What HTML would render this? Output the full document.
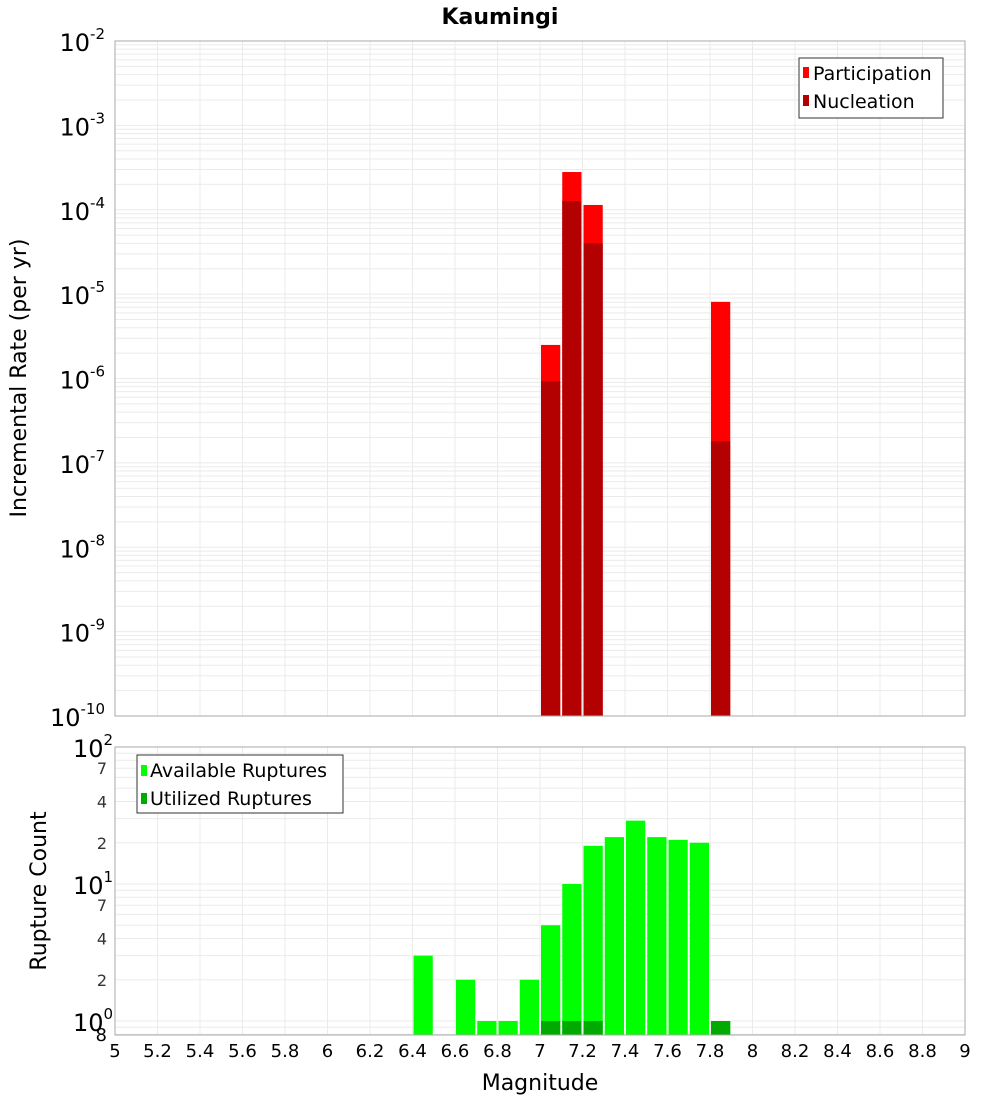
<!DOCTYPE html>
<html><head><meta charset="utf-8"><style>
body{margin:0;background:#fff;font-family:"DejaVu Sans","Liberation Sans",sans-serif;}
svg{display:block}
</style></head><body>
<svg id="c" width="1000" height="1100" xmlns="http://www.w3.org/2000/svg"></svg>
<script>
const topMags=[7.05,7.15,7.25,7.85];
const participation=[2.5e-6,2.8e-4,1.14e-4,8.1e-6];
const nucleation=[9.3e-7,1.27e-4,4.0e-5,1.8e-7];
const botMags=[6.45,6.65,6.75,6.85,6.95,7.05,7.15,7.25,7.35,7.45,7.55,7.65,7.75,7.85];
const available=[3,2,1,1,2,5,10,19,22,29,22,21,20,1];
const utilizedMags=[7.05,7.15,7.25,7.85];
const utilized=[1,1,1,1];
const xTicks=[5,5.2,5.4,5.6,5.8,6,6.2,6.4,6.6,6.8,7,7.2,7.4,7.6,7.8,8,8.2,8.4,8.6,8.8,9];
const topDecades=[-10,-9,-8,-7,-6,-5,-4,-3,-2];
const botDecades=[0,1,2];
const botMinorLabels=[2,4,7];

const NS="http://www.w3.org/2000/svg";
const svg=document.getElementById('c');
function el(t,a,p){const e=document.createElementNS(NS,t);for(const k in a)e.setAttribute(k,a[k]);(p||svg).appendChild(e);return e;}
const X0=115,X1=965;
const xs=m=>X0+(m-5)/4*(X1-X0);
const T0=41,T1=716;
const yt=v=>T0+(-2-Math.log10(v))/8*(T1-T0);
const B0=747,B1=1035,BD=137;
const yb=v=>B0+(2-Math.log10(v))*BD;
const bw=(X1-X0)/40;

// top grid
const gT=el('g',{});


for(let d=-10;d<-2;d++)for(let k=1;k<10;k++){const y=yt(k*Math.pow(10,d));el('line',{x1:X0,x2:X1,y1:y,y2:y,stroke:'#ebebeb','stroke-width':1},gT);}
xTicks.forEach(t=>{const x=xs(t);el('line',{x1:x,x2:x,y1:T0,y2:T1,stroke:'#ebebeb'},gT);el('line',{x1:x,x2:x,y1:B0,y2:B1,stroke:'#ebebeb'},gT);});
for(let d=-1;d<2;d++)for(let k=1;k<10;k++){const v=k*Math.pow(10,d);const y=yb(v);if(y>=B0&&y<=B1)el('line',{x1:X0,x2:X1,y1:y,y2:y,stroke:'#ebebeb'},gT);}

// top bars
topMags.forEach((m,i)=>{
 const r=el('rect',{x:xs(m)-bw/2+1,y:yt(participation[i]),width:bw-2,height:T1-yt(participation[i]),fill:'#ff0000'});
 
 
 const n=el('rect',{x:xs(m)-bw/2+1,y:yt(nucleation[i]),width:bw-2,height:T1-yt(nucleation[i]),fill:'#b30000'});
 
 
});
// bottom bars
botMags.forEach((m,i)=>{
 const r=el('rect',{x:xs(m)-bw/2+1,y:yb(available[i]),width:bw-2,height:B1-yb(available[i]),fill:'#00ff00'});
 
 
});
utilizedMags.forEach((m,i)=>{
 const r=el('rect',{x:xs(m)-bw/2+1,y:yb(utilized[i]),width:bw-2,height:B1-yb(utilized[i]),fill:'#00aa00'});
 
 
});
// frames
el('rect',{x:X0,y:T0,width:X1-X0,height:T1-T0,fill:'none',stroke:'#aaa'});
el('rect',{x:X0,y:B0,width:X1-X0,height:B1-B0,fill:'none',stroke:'#aaa'});

// top y labels
topDecades.forEach(d=>{
 const y=yt(Math.pow(10,d));
 const t=el('text',{x:105,y:y+10,'text-anchor':'end','font-size':24,fill:'#000'});
 
 
 t.innerHTML='10<tspan dy="-12" font-size="15">'+d+'</tspan>';
});
botDecades.forEach(d=>{
 const y=yb(Math.pow(10,d));
 const t=el('text',{x:73,y:y+10,'font-size':24,fill:'#000'});
 
 
 t.innerHTML='10<tspan dy="-12" font-size="15">'+d+'</tspan>';
});
[0,1].forEach(d=>botMinorLabels.forEach(k=>{
 const y=yb(k*Math.pow(10,d));
 const t=el('text',{x:107,y:y+6,'text-anchor':'end','font-size':16,fill:'#333'});
 
 
 t.textContent=k;
}));
{const t=el('text',{x:107,y:1041,'text-anchor':'end','font-size':18,fill:'#000'});t.textContent='8';}
xTicks.forEach(v=>{
 const t=el('text',{x:xs(v),y:1057,'text-anchor':'middle','font-size':18,fill:'#000'});
 
 
 t.textContent=String(v);
});
</script>
<svg width="1000" height="1100" style="position:absolute;left:0;top:0" xmlns="http://www.w3.org/2000/svg">
<text x="500" y="24" text-anchor="middle" font-size="22" font-weight="bold">Kaumingi</text>
<text transform="translate(26,378) rotate(-90)" text-anchor="middle" font-size="22">Incremental Rate (per yr)</text>
<text transform="translate(46,891) rotate(-90)" text-anchor="middle" font-size="22">Rupture Count</text>
<text x="540" y="1090" text-anchor="middle" font-size="22">Magnitude</text>
<g>
<rect x="799" y="58" width="144" height="60" fill="#fff" stroke="#333"/>
<rect x="803" y="67" width="6" height="11" fill="#ff0000"/>
<text x="813" y="80" font-size="19">Participation</text>
<rect x="803" y="95" width="6" height="11" fill="#b30000"/>
<text x="813" y="108" font-size="19">Nucleation</text>
</g>
<g>
<rect x="137" y="755" width="206" height="58" fill="#fff" stroke="#333"/>
<rect x="141" y="765" width="6" height="11" fill="#00ff00"/>
<text x="150" y="777" font-size="19">Available Ruptures</text>
<rect x="141" y="793" width="6" height="11" fill="#00aa00"/>
<text x="150" y="805" font-size="19">Utilized Ruptures</text>
</g>
</svg>
</body></html>
